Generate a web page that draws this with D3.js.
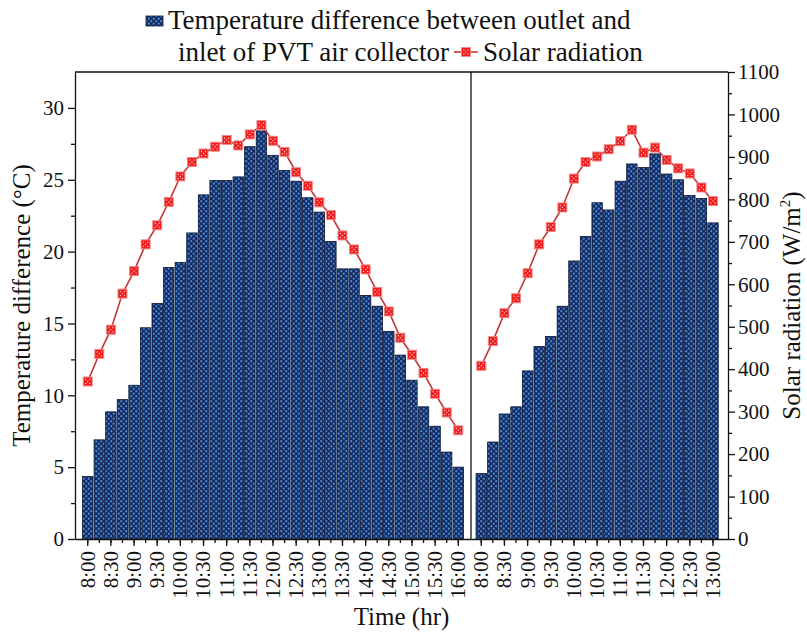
<!DOCTYPE html>
<html>
<head>
<meta charset="utf-8">
<script src="https://cdn.jsdelivr.net/npm/d3@7"></script>
<style>
  body { margin: 0; background: #fff; }
  svg text { font-family: "Liberation Serif", "Times New Roman", serif; fill: #111; }
</style>
</head>
<body>
<div id="chart"></div>
<script>
// ---- data ----
const timesLeft = ["8:00","8:15","8:30","8:45","9:00","9:15","9:30","9:45","10:00","10:15","10:30","10:45",
  "11:00","11:15","11:30","11:45","12:00","12:15","12:30","12:45","13:00","13:15","13:30","13:45",
  "14:00","14:15","14:30","14:45","15:00","15:15","15:30","15:45","16:00"]
const timesRight = ["8:00","8:15","8:30","8:45","9:00","9:15","9:30","9:45","10:00","10:15","10:30","10:45",
  "11:00","11:15","11:30","11:45","12:00","12:15","12:30","12:45","13:00"]

// temperature difference (°C)
const tempLeft = [4.35, 6.9, 8.85, 9.7, 10.7, 14.7, 16.4, 18.9, 19.25, 21.3, 23.95, 24.95, 24.95,
  25.2, 27.3, 28.4, 26.7, 25.65, 24.9, 23.75, 22.75, 20.7, 18.8, 18.8, 16.95, 16.2, 14.45, 12.8,
  11.05, 9.2, 7.85, 6.05, 5.0]
const tempRight = [4.55, 6.75, 8.7, 9.2, 11.7, 13.4, 14.1, 16.2, 19.35, 21.05, 23.4, 22.9, 24.9,
  26.1, 25.85, 26.8, 25.4, 25.0, 23.9, 23.7, 22.0]

// solar radiation (W/m2)
const solarLeft = [371, 436, 493, 578, 631, 694, 739, 794, 854, 888, 908, 924, 940, 927, 953, 975,
  938, 912, 864, 832, 793, 763, 715, 682, 635, 582, 536, 474, 434, 391, 342, 298, 256]
const solarRight = [408, 466, 532, 567, 626, 694, 735, 781, 849, 888, 901, 918, 937, 964, 910,
  922, 893, 873, 861, 828, 796]

const tempTicks = [0, 5, 10, 15, 20, 25, 30]
const tempMinor = [2.5, 7.5, 12.5, 17.5, 22.5, 27.5]
const solarTicks = [0, 100, 200, 300, 400, 500, 600, 700, 800, 900, 1000, 1100]
const solarMinor = [50, 150, 250, 350, 450, 550, 650, 750, 850, 950, 1050]

// ---- layout ----
const width = 807
const height = 637
const plot = { left: 75, right: 728, top: 72, bottom: 539, split: 471 }
const font = { tick: 21, title: 25, legend: 27 }

const svg = d3.select("#chart")
  .append("svg")
  .attr("width", width)
  .attr("height", height)

// dotted fill of the bars
const defs = svg.append("defs")
const pat = defs.append("pattern")
  .attr("id", "dots")
  .attr("patternUnits", "userSpaceOnUse")
  .attr("width", 5)
  .attr("height", 5)
pat.append("rect").attr("width", 5).attr("height", 5).attr("fill", "#16295a")
pat.append("circle").attr("cx", 1.25).attr("cy", 1.25).attr("r", 1.15).attr("fill", "#4586d6")
pat.append("circle").attr("cx", 3.75).attr("cy", 3.75).attr("r", 1.15).attr("fill", "#4586d6")

// scales
const xLeft = d3.scaleBand().domain(timesLeft)
  .range([plot.left, plot.split]).paddingInner(0.1).paddingOuter(0.65)
const xRight = d3.scaleBand().domain(timesRight)
  .range([plot.split, plot.right]).paddingInner(0.1).paddingOuter(0.64).align(0.34)
const yTemp = d3.scaleLinear().domain([0, 32.5]).range([plot.bottom, plot.top])
const ySolar = d3.scaleLinear().domain([0, 1100]).range([plot.bottom, plot.top])

const panels = [
  { x: xLeft, times: timesLeft, temp: tempLeft, solar: solarLeft },
  { x: xRight, times: timesRight, temp: tempRight, solar: solarRight }
]

// bars
panels.forEach(p => {
  svg.append("g")
    .selectAll("rect")
    .data(p.times.map((t, i) => ({ t, v: p.temp[i] })))
    .enter()
    .append("rect")
    .attr("x", d => p.x(d.t))
    .attr("width", p.x.bandwidth())
    .attr("y", d => yTemp(d.v))
    .attr("height", d => plot.bottom - yTemp(d.v))
    .attr("fill", "url(#dots)")
    .attr("stroke", "#0a1533")
    .attr("stroke-width", 0.8)
})

// marker: red square with white dots
function drawMarker(g) {
  g.append("rect")
    .attr("x", -4.5).attr("y", -4.5)
    .attr("width", 9).attr("height", 9)
    .attr("fill", "#f01c1c")
    .attr("stroke", "#f08a8a")
    .attr("stroke-width", 1)
  ;[[-2, -2], [2, 2], [0, 0], [2, -2], [-2, 2]].forEach(([dx, dy]) => {
    g.append("circle").attr("cx", dx).attr("cy", dy).attr("r", 0.7).attr("fill", "#ffd0d0")
  })
}

// solar radiation lines
panels.forEach(p => {
  const pts = p.times.map((t, i) => ({ t, v: p.solar[i] }))
  const cx = d => p.x(d.t) + p.x.bandwidth() / 2
  const line = d3.line().x(cx).y(d => ySolar(d.v))
  svg.append("path")
    .datum(pts)
    .attr("d", line)
    .attr("fill", "none")
    .attr("stroke", "#c23838")
    .attr("stroke-width", 1.6)
  svg.append("g")
    .selectAll("g")
    .data(pts)
    .enter()
    .append("g")
    .attr("transform", d => `translate(${cx(d)},${ySolar(d.v)})`)
    .each(function () { drawMarker(d3.select(this)) })
})

// ---- axes ----
function styleAxis(g) {
  g.selectAll("path, line").attr("stroke", "#111").attr("stroke-width", 1.3)
  g.selectAll("text").style("font-size", `${font.tick}px`).attr("fill", "#111")
}

// left y
svg.append("g")
  .attr("transform", `translate(${plot.left},0)`)
  .call(d3.axisLeft(yTemp).tickValues(tempTicks).tickSize(7).tickSizeOuter(0).tickPadding(4))
  .call(styleAxis)
svg.append("g")
  .attr("transform", `translate(${plot.left},0)`)
  .call(d3.axisLeft(yTemp).tickValues(tempMinor).tickSize(4).tickFormat(""))
  .call(g => g.select(".domain").remove())
  .call(styleAxis)

// right y
svg.append("g")
  .attr("transform", `translate(${plot.right},0)`)
  .call(d3.axisRight(ySolar).tickValues(solarTicks).tickFormat(d3.format("d"))
    .tickSize(7).tickSizeOuter(0).tickPadding(3))
  .call(styleAxis)
svg.append("g")
  .attr("transform", `translate(${plot.right},0)`)
  .call(d3.axisRight(ySolar).tickValues(solarMinor).tickSize(4).tickFormat(""))
  .call(g => g.select(".domain").remove())
  .call(styleAxis)

// x axes (label every 30 min, minor tick every 15 min)
panels.forEach(p => {
  const major = p.times.filter((d, i) => i % 2 === 0)
  svg.append("g")
    .attr("transform", `translate(0,${plot.bottom})`)
    .call(d3.axisBottom(p.x).tickValues(major).tickSize(7).tickSizeOuter(0))
    .call(styleAxis)
    .call(g => g.selectAll("text")
      .attr("transform", "rotate(-90)")
      .attr("text-anchor", "end")
      .attr("x", -12)
      .attr("y", 0)
      .attr("dy", "0.33em"))
  svg.append("g")
    .attr("transform", `translate(0,${plot.bottom})`)
    .call(d3.axisBottom(p.x).tickValues(p.times).tickSize(4).tickFormat(""))
    .call(g => g.select(".domain").remove())
    .call(styleAxis)
})

// top frame and panel divider
svg.append("line")
  .attr("x1", plot.left).attr("x2", plot.right)
  .attr("y1", plot.top).attr("y2", plot.top)
  .attr("stroke", "#111").attr("stroke-width", 1.3)
svg.append("line")
  .attr("x1", plot.split).attr("x2", plot.split)
  .attr("y1", plot.top).attr("y2", plot.bottom)
  .attr("stroke", "#111").attr("stroke-width", 1.3)

// axis titles
svg.append("text")
  .attr("x", (plot.left + plot.right) / 2)
  .attr("y", 625)
  .attr("text-anchor", "middle")
  .style("font-size", `${font.title}px`)
  .text("Time (hr)")

svg.append("text")
  .attr("transform", `translate(30,${(plot.top + plot.bottom) / 2}) rotate(-90)`)
  .attr("text-anchor", "middle")
  .style("font-size", `${font.title}px`)
  .text("Temperature difference (°C)")

const rTitle = svg.append("text")
  .attr("transform", `translate(800,${(plot.top + plot.bottom) / 2}) rotate(-90)`)
  .attr("text-anchor", "middle")
  .style("font-size", `${font.title}px`)
rTitle.append("tspan").text("Solar radiation (W/m")
rTitle.append("tspan").attr("dy", -10).style("font-size", "15px").text("2")
rTitle.append("tspan").attr("dy", 10).text(")")

// ---- legend ----
const legend = svg.append("g")
legend.append("rect")
  .attr("x", 146).attr("y", 16)
  .attr("width", 17).attr("height", 10)
  .attr("fill", "url(#dots)")
  .attr("stroke", "#0a1533").attr("stroke-width", 0.8)
legend.append("text")
  .attr("x", 168).attr("y", 29)
  .style("font-size", `${font.legend}px`)
  .text("Temperature difference between outlet and")

const l2 = legend.append("text")
  .attr("x", 178).attr("y", 61)
  .style("font-size", `${font.legend}px`)
  .text("inlet of PVT air collector")
const l2end = 178 + l2.node().getComputedTextLength()
const ly = 52
legend.append("line")
  .attr("x1", l2end + 5).attr("x2", l2end + 29)
  .attr("y1", ly).attr("y2", ly)
  .attr("stroke", "#c23838").attr("stroke-width", 1.6)
drawMarker(legend.append("g").attr("transform", `translate(${l2end + 17},${ly})`))
legend.append("text")
  .attr("x", l2end + 34).attr("y", 61)
  .style("font-size", `${font.legend}px`)
  .text("Solar radiation")
</script>
</body>
</html>
